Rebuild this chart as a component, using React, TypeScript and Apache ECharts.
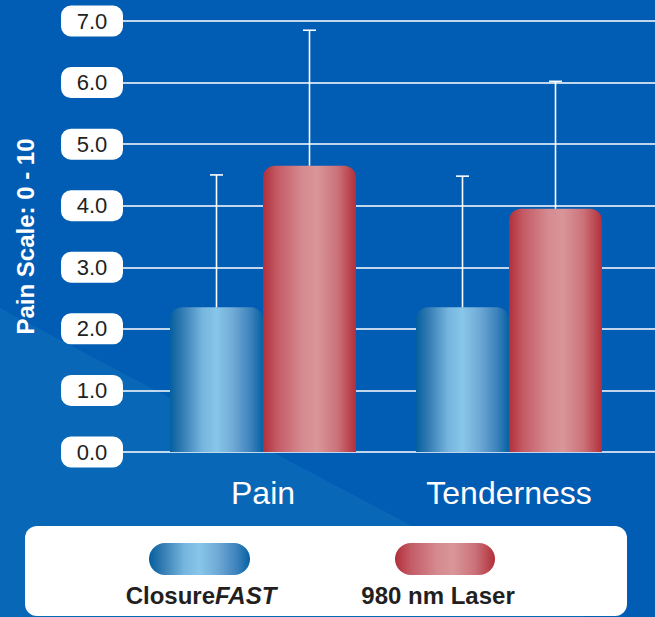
import React, { useEffect, useRef } from "react";
import * as echarts from "echarts";

const categories = ["Pain", "Tenderness"];
const seriesNames = ["ClosureFAST", "980 nm Laser"];
const closureValues = [2.35, 2.35];
const laserValues = [4.65, 3.95];
const closureErrTop = [4.5, 4.48];
const laserErrTop = [6.85, 6.02];
const yTicks = [0, 1, 2, 3, 4, 5, 6, 7];

const blueGrad = () =>
  new echarts.graphic.LinearGradient(0, 0, 1, 0, [
    { offset: 0, color: "#04609f" },
    { offset: 0.12, color: "#2f78b1" },
    { offset: 0.35, color: "#76b6de" },
    { offset: 0.5, color: "#88c6e9" },
    { offset: 0.68, color: "#6faad6" },
    { offset: 0.87, color: "#3c82bc" },
    { offset: 1, color: "#0562a2" },
  ]);
const redGrad = () =>
  new echarts.graphic.LinearGradient(0, 0, 1, 0, [
    { offset: 0, color: "#b12f3a" },
    { offset: 0.15, color: "#c35a64" },
    { offset: 0.42, color: "#d58a8f" },
    { offset: 0.58, color: "#d99699" },
    { offset: 0.8, color: "#cb7279" },
    { offset: 1, color: "#b22f3a" },
  ]);

const BAR_W = 93;

function errSeries(name: string, lows: number[], highs: number[], offset: number) {
  return {
    type: "custom",
    name: name + " err",
    xAxisIndex: 1,
    yAxisIndex: 1,
    z: 5,
    data: lows.map((v, i) => [i, v, highs[i]]),
    encode: { x: 0, y: [1, 2] },
    renderItem: (params: any, api: any) => {
      const ci = api.value(0);
      const lo = api.coord([ci, api.value(1)]);
      const hi = api.coord([ci, api.value(2)]);
      const x = lo[0] + offset;
      const st = { stroke: "#ffffff", lineWidth: 1.6 };
      return {
        type: "group",
        children: [
          { type: "line", shape: { x1: x, y1: lo[1], x2: x, y2: hi[1] }, style: st },
          { type: "line", shape: { x1: x - 6.5, y1: hi[1], x2: x + 6.5, y2: hi[1] }, style: st },
        ],
      };
    },
  };
}

export default function App() {
  const ref = useRef<HTMLDivElement>(null);
  useEffect(() => {
    if (!ref.current) return;
    const chart = echarts.init(ref.current, null, { renderer: "svg" });
    const font = "'Liberation Sans', Arial, Helvetica, sans-serif";
    chart.setOption({
      animation: false,
      backgroundColor: "#015cb3",
      textStyle: { fontFamily: font },
      grid: [
        { left: 123, right: 0, top: 21, height: 431 },
        { left: 140, width: 492, top: 21, height: 431 },
      ],
      xAxis: [
        { type: "value", gridIndex: 0, show: false, min: 0, max: 1 },
        {
          type: "category",
          gridIndex: 1,
          data: categories,
          axisLine: { show: false },
          axisTick: { show: false },
          axisLabel: { color: "#ffffff", fontSize: 32, margin: 25, fontFamily: font },
        },
      ],
      yAxis: [
        {
          type: "value",
          gridIndex: 0,
          min: yTicks[0],
          max: yTicks[yTicks.length - 1],
          interval: 1,
          name: "Pain Scale: 0 - 10",
          nameLocation: "middle",
          nameGap: 86,
          nameTextStyle: { color: "#ffffff", fontSize: 24, fontWeight: "bold", fontFamily: font },
          axisLine: { show: false },
          axisTick: { show: false },
          splitLine: { show: true, lineStyle: { color: "#ffffff", width: 1.6 } },
          axisLabel: {
            margin: 31,
            align: "center",
            width: 62,
            height: 31,
            lineHeight: 31,
            backgroundColor: "#ffffff",
            borderRadius: 10,
            fontSize: 22,
            color: "#231f20",
            fontFamily: font,
            formatter: (v: number) => v.toFixed(1),
          },
        },
        {
          type: "value",
          gridIndex: 1,
          min: yTicks[0],
          max: yTicks[yTicks.length - 1],
          interval: 1,
          show: false,
          splitLine: { show: false },
        },
      ],
      series: [
        {
          type: "bar",
          name: seriesNames[0],
          xAxisIndex: 1,
          yAxisIndex: 1,
          data: closureValues,
          barWidth: BAR_W,
          barGap: "0%",
          itemStyle: { color: blueGrad(), borderRadius: [12, 12, 0, 0] },
        },
        {
          type: "bar",
          name: seriesNames[1],
          xAxisIndex: 1,
          yAxisIndex: 1,
          data: laserValues,
          barWidth: BAR_W,
          barGap: "0%",
          itemStyle: { color: redGrad(), borderRadius: [12, 12, 0, 0] },
        },
        errSeries(seriesNames[0], closureValues, closureErrTop, -BAR_W / 2),
        errSeries(seriesNames[1], laserValues, laserErrTop, BAR_W / 2),
      ],
      graphic: [
        {
          type: "polygon",
          z: -100,
          silent: true,
          shape: { points: [[0, 308], [590, 620], [0, 620]] },
          style: { fill: "#0867b6" },
        },
        {
          type: "rect",
          z: 100,
          shape: { x: 25, y: 526, width: 602, height: 90, r: 12 },
          style: { fill: "#ffffff" },
        },
        {
          type: "rect",
          z: 101,
          shape: { x: 149, y: 543, width: 101, height: 32, r: 16 },
          style: { fill: blueGrad() },
        },
        {
          type: "rect",
          z: 101,
          shape: { x: 395, y: 543, width: 100, height: 32, r: 16 },
          style: { fill: redGrad() },
        },
        {
          type: "text",
          z: 101,
          x: 201,
          y: 595,
          style: {
            text: "{a|Closure}{b|FAST}",
            align: "center",
            verticalAlign: "middle",
            rich: {
              a: { fontSize: 24, fontWeight: "bold", fill: "#231f20", fontFamily: font },
              b: { fontSize: 24, fontWeight: "bold", fontStyle: "italic", fill: "#231f20", fontFamily: font },
            },
          },
        },
        {
          type: "text",
          z: 101,
          x: 438,
          y: 595,
          style: {
            text: seriesNames[1],
            align: "center",
            verticalAlign: "middle",
            fontSize: 24,
            fontWeight: "bold",
            fill: "#231f20",
            fontFamily: font,
          },
        },
      ],
    });
    return () => chart.dispose();
  }, []);
  return <div ref={ref} style={{ width: 655, height: 617, position: "absolute", left: 0, top: 0 }} />;
}
